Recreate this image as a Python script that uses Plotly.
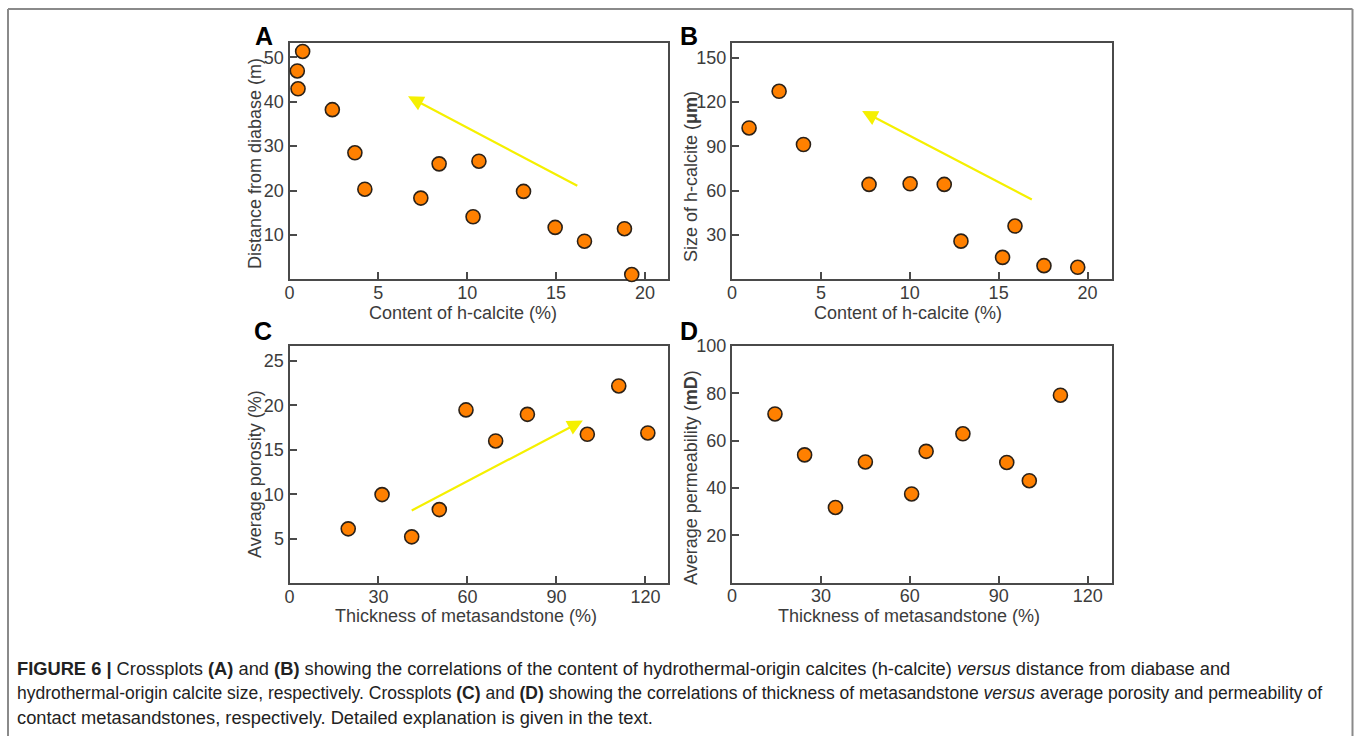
import plotly.graph_objects as go

# ---------------- data ----------------
# Panel A: content of h-calcite (%) vs distance from diabase (m)
a_content = [0.74, 0.44, 0.48, 2.41, 3.68, 4.24, 7.39, 8.42, 10.33, 10.66, 13.17, 14.95, 16.6, 18.85, 19.26]
a_distance = [51.3, 46.9, 42.9, 38.2, 28.5, 20.3, 18.3, 26.0, 14.1, 26.6, 19.8, 11.7, 8.6, 11.4, 1.1]
# Panel B: content of h-calcite (%) vs size of h-calcite (um)
b_content = [0.96, 2.65, 4.02, 7.71, 10.02, 11.94, 12.88, 15.92, 15.22, 17.55, 19.45]
b_size = [102.5, 127.3, 91.3, 64.3, 64.7, 64.3, 25.9, 36.1, 14.9, 9.3, 8.2]
# Panel C: thickness of metasandstone (%) vs average porosity (%)
c_thick = [19.8, 31.2, 41.2, 50.5, 59.5, 69.5, 80.2, 100.4, 111.0, 120.8]
c_porosity = [6.1, 9.96, 5.2, 8.27, 19.5, 16.0, 19.0, 16.75, 22.2, 16.9]
# Panel D: thickness of metasandstone (%) vs average permeability (mD)
d_thick = [14.5, 24.5, 34.9, 45.0, 60.6, 65.5, 77.9, 92.7, 100.3, 110.8]
d_perm = [71.3, 54.0, 31.8, 51.0, 37.5, 55.5, 62.9, 50.8, 43.1, 79.2]

# trend arrows (tail -> head) in data units
arrow_a = [(16.28, 20.9), (6.67, 41.2)]
arrow_b = [(16.95, 53.6), (7.32, 114.0)]
arrow_c = [(40.7, 8.08), (98.9, 18.3)]

# tick values
a_xticks = [0, 5, 10, 15, 20]
a_yticks = [10, 20, 30, 40, 50]
b_xticks = [0, 5, 10, 15, 20]
b_yticks = [30, 60, 90, 120, 150]
c_xticks = [0, 30, 60, 90, 120]
c_yticks = [5, 10, 15, 20, 25]
d_xticks = [0, 30, 60, 90, 120]
d_yticks = [20, 40, 60, 80, 100]

x_title_ab = "Content of h-calcite (%)"
x_title_cd = "Thickness of metasandstone (%)"
y_title_a = "Distance from diabase (m)"
y_title_b = "Size of h-calcite (<b>μm</b>)"
y_title_c = "Average porosity (%)"
y_title_d = "Average permeability (<b>mD</b>)"

caption_lines = [
    "<b>FIGURE 6 |</b> Crossplots <b>(A)</b> and <b>(B)</b> showing the correlations of the content of hydrothermal-origin calcites (h-calcite) <i>versus</i> distance from diabase and",
    "hydrothermal-origin calcite size, respectively. Crossplots <b>(C)</b> and <b>(D)</b> showing the correlations of thickness of metasandstone <i>versus</i> average porosity and permeability of",
    "contact metasandstones, respectively. Detailed explanation is given in the text.",
]
caption_sizes = [18.3, 17.5, 18.3]

# ---------------- layout helpers ----------------
W, H = 1354, 736
FONT = "Liberation Sans, Arial, Helvetica, sans-serif"
AXC = "#4a4a4a"
TXC = "#3c3c3c"


def px(x):
    return x / W


def py(y):
    return 1 - y / H


fig = go.Figure()

marker = dict(size=14, color="#FF8000", line=dict(color="#2b2118", width=1.6))

panels = [
    # (xs, ys, xpix, ypix, xrange, yrange, xticks, yticks)
    (a_content, a_distance, (289.5, 668), (43, 279.4), [0, 21.3], [0, 53.2], a_xticks, a_yticks),
    (b_content, b_size, (732, 1111.7), (43, 279.4), [0, 21.36], [0, 160], b_xticks, b_yticks),
    (c_thick, c_porosity, (289.5, 668), (346, 583), [0, 127.6], [0, 26.7], c_xticks, c_yticks),
    (d_thick, d_perm, (732, 1111.7), (346, 582.7), [0, 128.1], [0, 100], d_xticks, d_yticks),
]

for i, (xs, ys, xpix, ypix, xr, yr, xt, yt) in enumerate(panels, start=1):
    sfx = "" if i == 1 else str(i)
    fig.add_trace(go.Scatter(x=xs, y=ys, mode="markers", marker=marker,
                             xaxis="x" + sfx, yaxis="y" + sfx, cliponaxis=False,
                             showlegend=False, hoverinfo="x+y"))
    common = dict(showline=True, mirror=True, linecolor=AXC, linewidth=2,
                  ticks="inside", ticklen=7, tickwidth=1.5, tickcolor=AXC,
                  showgrid=False, zeroline=False, layer="below traces", automargin=False,
                  tickfont=dict(family=FONT, size=18, color=TXC), fixedrange=True)
    fig.update_layout(**{
        "xaxis" + sfx: dict(domain=[px(xpix[0]), px(xpix[1])], range=xr,
                            tickvals=xt, anchor="y" + sfx, ticklabelstandoff=-4, **common),
        "yaxis" + sfx: dict(domain=[py(ypix[1]), py(ypix[0])], range=yr,
                            tickvals=yt, anchor="x" + sfx, **common),
    })

annotations = []

# trend arrows
for arr, sfx in [(arrow_a, ""), (arrow_b, "2"), (arrow_c, "3")]:
    (tx, ty), (hx, hy) = arr
    annotations.append(dict(x=hx, y=hy, ax=tx, ay=ty, xref="x" + sfx, yref="y" + sfx,
                            axref="x" + sfx, ayref="y" + sfx, showarrow=True, text="",
                            arrowhead=2, arrowsize=1.4, arrowwidth=2.2, arrowcolor="#F5F000"))

# panel letters
for letter, (lx, ly) in zip("ABCD", [(264, 36), (689, 36), (263, 331), (689, 331)]):
    annotations.append(dict(text="<b>%s</b>" % letter, x=px(lx), y=py(ly), xref="paper", yref="paper",
                            showarrow=False, xanchor="center", yanchor="middle",
                            font=dict(family=FONT, size=25, color="#000000")))

# axis titles
x_titles = [(x_title_ab, 463, 312.5), (x_title_ab, 908, 312.5), (x_title_cd, 466, 615.5), (x_title_cd, 909, 615.5)]
for t, tx, ty in x_titles:
    annotations.append(dict(text=t, x=px(tx), y=py(ty), xref="paper", yref="paper", showarrow=False,
                            xanchor="center", yanchor="middle",
                            font=dict(family=FONT, size=18, color=TXC)))
y_titles = [(y_title_a, 255, 163), (y_title_b, 691, 176), (y_title_c, 255, 474), (y_title_d, 691, 477)]
for t, tx, ty in y_titles:
    annotations.append(dict(text=t, x=px(tx), y=py(ty), xref="paper", yref="paper", showarrow=False,
                            xanchor="center", yanchor="middle", textangle=-90,
                            font=dict(family=FONT, size=18, color=TXC)))

# caption
for line, cy, fs in zip(caption_lines, [668, 692.5, 717], caption_sizes):
    annotations.append(dict(text=line, x=px(15), y=py(cy), xref="paper", yref="paper", showarrow=False,
                            xanchor="left", yanchor="middle",
                            font=dict(family=FONT, size=fs, color="#222222")))

# outer frame (top, left, right)
shapes = [
    dict(type="line", xref="paper", yref="paper", x0=px(8), x1=px(1352.5), y0=py(9), y1=py(9),
         line=dict(color="#8a8a8a", width=2)),
    dict(type="line", xref="paper", yref="paper", x0=px(8), x1=px(8), y0=py(9), y1=-0.02,
         line=dict(color="#8a8a8a", width=2)),
    dict(type="line", xref="paper", yref="paper", x0=px(1352.5), x1=px(1352.5), y0=py(9), y1=-0.02,
         line=dict(color="#8a8a8a", width=2)),
]

fig.update_layout(width=W, height=H, autosize=False,
                  margin=dict(l=0, r=0, t=0, b=0, pad=0, autoexpand=False),
                  paper_bgcolor="white", plot_bgcolor="white",
                  annotations=annotations, shapes=shapes, showlegend=False)

fig.write_html("out.html", config={"displayModeBar": False, "responsive": False},
               post_script="document.body.style.margin='0';document.body.style.padding='0';"
                           "document.body.style.overflow='hidden';")
